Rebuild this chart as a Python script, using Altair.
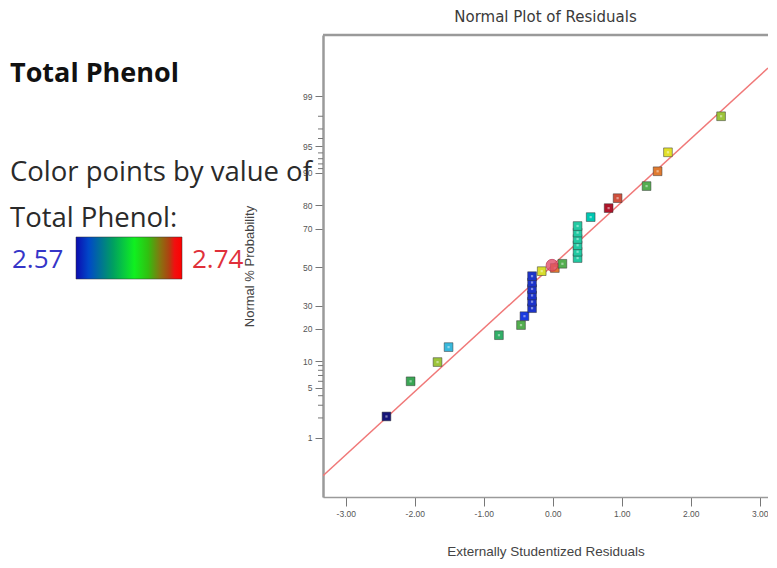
import altair as alt
import pandas as pd
from statistics import NormalDist

# ---------------- data ----------------
residuals = [-2.41, -2.06, -1.67, -1.51, -0.78, -0.46, -0.41,
             -0.30, -0.30, -0.30, -0.30, -0.30, -0.30,
             -0.16, 0.03, 0.14,
             0.36, 0.36, 0.36, 0.36, 0.36, 0.36,
             0.55, 0.81, 0.94, 1.36, 1.52, 1.67, 2.44]
probabilities = [2.1, 6.0, 9.8, 13.8, 17.7, 21.5, 25.2,
                 28.8, 31.9, 35.0, 38.3, 41.7, 45.1,
                 47.8, 49.5, 51.8,
                 54.9, 58.3, 61.7, 64.9, 68.1, 71.2,
                 75.2, 78.9, 82.6, 86.5, 90.4, 94.1, 98.0]
phenol = [2.57, 2.635, 2.655, 2.60, 2.63, 2.64, 2.58,
          2.578, 2.578, 2.578, 2.578, 2.578, 2.578,
          2.672, 2.695, 2.64,
          2.615, 2.615, 2.615, 2.615, 2.615, 2.615,
          2.612, 2.74, 2.715, 2.64, 2.695, 2.675, 2.655]

highlight_residual = [-0.01]
highlight_probability = [51.0]

fit_residual = [-3.33, 3.12]
fit_probability = [0.226, 99.664]

major_probs = [1, 5, 10, 20, 30, 50, 70, 80, 90, 95, 99]
minor_probs = [2, 3, 4, 6, 7, 8, 9, 91, 92, 93, 94, 96, 97, 98]
x_ticks = [-3, -2, -1, 0, 1, 2, 3]

phenol_range = [2.57, 2.74]
phenol_stops = [2.57, 2.58, 2.60, 2.615, 2.635, 2.655, 2.675, 2.695, 2.715, 2.74]
phenol_colors = ["#141478", "#1a3be0", "#38b8dc", "#22c9a2", "#3aa655",
                 "#9cc43a", "#e2e02a", "#e07a30", "#d0503c", "#b0142a"]
bar_offsets = [0.0, 0.12, 0.35, 0.55, 0.68, 0.80, 0.88, 0.93, 1.0]
bar_colors = ["#0c0cb0", "#0048c8", "#00a060", "#10f020", "#30c010",
              "#8a7010", "#b04010", "#f01010", "#ff0000"]

panel_title = "Total Phenol"
caption_lines = ["Color points by value of", "Total Phenol:"]
plot_title = "Normal Plot of Residuals"
x_title = "Externally Studentized Residuals"
y_title = "Normal % Probability"

# ---------------- tables ----------------
nd = NormalDist()
pts = pd.DataFrame({"resid": residuals,
                    "z": [nd.inv_cdf(p / 100) for p in probabilities],
                    "phenol": phenol})
hl = pd.DataFrame({"resid": highlight_residual,
                   "z": [nd.inv_cdf(p / 100) for p in highlight_probability]})
fit = pd.DataFrame({"resid": fit_residual,
                    "z": [nd.inv_cdf(p / 100) for p in fit_probability]})
minor = pd.DataFrame({"z": [nd.inv_cdf(p / 100) for p in minor_probs]})
one = pd.DataFrame({"k": [0]})

W, H = 445, 462
xscale = alt.Scale(domain=[-3.33, 3.12], nice=False, zero=False)
yscale = alt.Scale(domain=[-3.13, 3.16], nice=False, zero=False)

xaxis = alt.Axis(values=x_ticks,
                 labelExpr="replace(format(datum.value, '.2f'), '\u2212', '-')",
                 title=x_title, grid=False, tickSize=9, tickColor="#777",
                 domainColor="#9a9a9a", domainWidth=1.5, labelFontSize=8.5,
                 labelColor="#555", labelPadding=3, labelFlush=False,
                 titleFontSize=13.5, titleColor="#444", titleFontWeight="normal",
                 titleBaseline="alphabetic", titleY=58)
yaxis = alt.Axis(values=[nd.inv_cdf(p / 100) for p in major_probs],
                 labelExpr="format(round(cumulativeNormal(datum.value) * 100), 'd')",
                 title=y_title, grid=False, tickSize=8, tickColor="#777",
                 domainColor="#9a9a9a", domainWidth=2.5, labelFontSize=8.5,
                 labelColor="#555", labelPadding=3, labelFlush=False,
                 titleFontSize=13, titleColor="#444", titleFontWeight="normal",
                 titleAngle=270, titleX=-74, titleY=H / 2, titleAlign="center",
                 titleBaseline="middle")

X = alt.X("resid:Q", scale=xscale, axis=xaxis)
Y = alt.Y("z:Q", scale=yscale, axis=yaxis)

line = alt.Chart(fit).mark_line(color="#f07878", strokeWidth=1.5, clip=True).encode(x=X, y=Y)

points = alt.Chart(pts).mark_square(size=76, filled=True, stroke="#333",
                                    strokeWidth=1, strokeOpacity=0.5, opacity=1).encode(
    x=X, y=Y,
    fill=alt.Fill("phenol:Q", scale=alt.Scale(domain=phenol_stops, range=phenol_colors),
                  legend=None))
dots = alt.Chart(pts).mark_square(size=5, color="#ffffff", opacity=0.45).encode(x=X, y=Y)

circle = alt.Chart(hl).mark_circle(size=140, color="#e0506a", opacity=0.8,
                                   stroke="#c03050", strokeWidth=1).encode(x=X, y=Y)

minor_ticks = alt.Chart(minor).mark_rule(color="#777", strokeWidth=1).encode(
    y=Y, x=alt.value(-5), x2=alt.value(0))

top_border = alt.Chart(one).mark_rule(color="#9a9a9a", strokeWidth=2.5).encode(
    x=alt.value(0), x2=alt.value(W), y=alt.value(0))

t_title = alt.Chart(one).mark_text(text=panel_title, font="Open Sans", fontSize=27,
                                   fontWeight="bold", color="#111", align="left",
                                   baseline="alphabetic").encode(
    x=alt.value(-313), y=alt.value(47))
t_cap1 = alt.Chart(one).mark_text(text=caption_lines[0], font="Open Sans", fontSize=27.5,
                                  color="#2a2a2a", align="left",
                                  baseline="alphabetic").encode(
    x=alt.value(-313), y=alt.value(146))
t_cap2 = alt.Chart(one).mark_text(text=caption_lines[1], font="Open Sans", fontSize=27.5,
                                  color="#2a2a2a", align="left",
                                  baseline="alphabetic").encode(
    x=alt.value(-313), y=alt.value(192))
t_lo = alt.Chart(one).mark_text(text=f"{phenol_range[0]:.2f}", font="Open Sans", fontSize=26,
                                color="#3535c8", align="left",
                                baseline="alphabetic").encode(
    x=alt.value(-311), y=alt.value(233))
t_hi = alt.Chart(one).mark_text(text=f"{phenol_range[1]:.2f}", font="Open Sans", fontSize=26,
                                color="#e0303a", align="left",
                                baseline="alphabetic").encode(
    x=alt.value(-131), y=alt.value(233))

grad = alt.Gradient(gradient="linear", x1=0, x2=1, y1=0, y2=0,
                    stops=[alt.GradientStop(offset=o, color=c)
                           for o, c in zip(bar_offsets, bar_colors)])
bar = alt.Chart(one).mark_rect(color=grad, stroke="#333", strokeWidth=0.5).encode(
    x=alt.value(-247), x2=alt.value(-141), y=alt.value(202), y2=alt.value(244))

chart = alt.layer(
    line, points, dots, circle, minor_ticks, top_border,
    t_title, t_cap1, t_cap2, t_lo, bar, t_hi
).properties(
    width=W, height=H,
    title=alt.TitleParams(plot_title, fontSize=15, font="DejaVu Sans",
                          fontWeight="normal", color="#3a3a3a", offset=9,
                          anchor="middle"),
    autosize=alt.AutoSizeParams(type="none"),
    padding={"left": 315, "top": 27, "right": 0, "bottom": 62},
).configure_view(stroke=None).configure_axis(
    labelFont="DejaVu Sans", titleFont="DejaVu Sans"
).configure(background="white")

chart.save("out.html", embed_options={"renderer": "svg", "actions": False})
